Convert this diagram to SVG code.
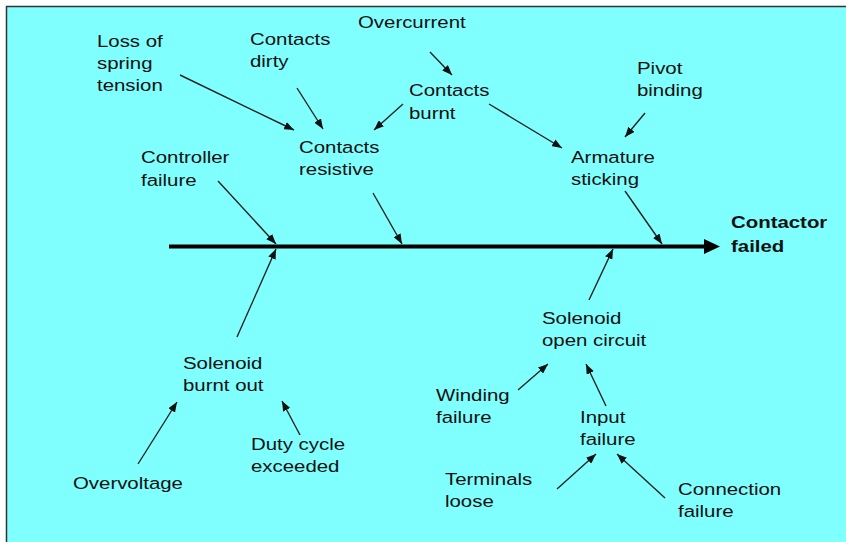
<svg xmlns="http://www.w3.org/2000/svg" width="846" height="542" viewBox="0 0 846 542">
<defs>
<style>
text{font-family:"Liberation Sans",Arial,sans-serif;font-size:17px;fill:#111}
.b{font-weight:bold}
.c{stroke:#222;stroke-width:1.4;fill:none;marker-end:url(#ah)}
</style>
<marker id="ah" viewBox="0 0 10 8" refX="10" refY="4" markerWidth="10" markerHeight="8" markerUnits="userSpaceOnUse" orient="auto">
<path d="M0,0 L10,4 L0,8 Z" fill="#111"/>
</marker>
</defs>
<rect width="846" height="542" fill="#fff"/>
<rect x="6.5" y="6.5" width="860" height="560" fill="#80FFFF" stroke="#333" stroke-width="1.5"/>
<g id="spine">
<line x1="169" y1="246.5" x2="706" y2="246.5" stroke="#000" stroke-width="4"/>
<path d="M704,239 L720,246.5 L704,254 Z" fill="#000"/>
</g>
<g id="connectors">
<line class="c" x1="180" y1="75" x2="294" y2="130"/>
<line class="c" x1="297" y1="88" x2="323" y2="129"/>
<line class="c" x1="403" y1="104" x2="374" y2="130"/>
<line class="c" x1="430" y1="52" x2="452" y2="75"/>
<line class="c" x1="489" y1="104" x2="562" y2="148"/>
<line class="c" x1="645" y1="113" x2="625" y2="137"/>
<line class="c" x1="625" y1="191" x2="662" y2="244"/>
<line class="c" x1="373" y1="193" x2="402" y2="244"/>
<line class="c" x1="218" y1="181" x2="276" y2="244"/>
<line class="c" x1="237" y1="337" x2="276" y2="249"/>
<line class="c" x1="589" y1="300" x2="613" y2="249"/>
<line class="c" x1="138" y1="464" x2="177" y2="402"/>
<line class="c" x1="300" y1="435" x2="282" y2="401"/>
<line class="c" x1="518" y1="390" x2="548" y2="364"/>
<line class="c" x1="606" y1="406" x2="586" y2="364"/>
<line class="c" x1="557" y1="489" x2="596" y2="454"/>
<line class="c" x1="665" y1="498" x2="617" y2="454"/>
</g>
<g id="loss-of-spring-tension"><text transform="translate(97,47) scale(1.2,1)"><tspan x="0" y="0">Loss of</tspan><tspan x="0" y="22">spring</tspan><tspan x="0" y="44">tension</tspan></text></g>
<g id="contacts-dirty"><text transform="translate(250,45) scale(1.2,1)"><tspan x="0" y="0">Contacts</tspan><tspan x="0" y="22">dirty</tspan></text></g>
<g id="overcurrent"><text transform="translate(358,28) scale(1.2,1)">Overcurrent</text></g>
<g id="contacts-burnt"><text transform="translate(409,96) scale(1.2,1)"><tspan x="0" y="0">Contacts</tspan><tspan x="0" y="23">burnt</tspan></text></g>
<g id="pivot-binding"><text transform="translate(637,74) scale(1.2,1)"><tspan x="0" y="0">Pivot</tspan><tspan x="0" y="22">binding</tspan></text></g>
<g id="contacts-resistive"><text transform="translate(299,153) scale(1.2,1)"><tspan x="0" y="0">Contacts</tspan><tspan x="0" y="22">resistive</tspan></text></g>
<g id="controller-failure"><text transform="translate(141,163) scale(1.2,1)"><tspan x="0" y="0">Controller</tspan><tspan x="0" y="23">failure</tspan></text></g>
<g id="armature-sticking"><text transform="translate(571,163) scale(1.2,1)"><tspan x="0" y="0">Armature</tspan><tspan x="0" y="22">sticking</tspan></text></g>
<g id="contactor-failed"><text class="b" transform="translate(731,228) scale(1.2,1)"><tspan x="0" y="0">Contactor</tspan><tspan x="0" y="24">failed</tspan></text></g>
<g id="solenoid-open-circuit"><text transform="translate(542,324) scale(1.2,1)"><tspan x="0" y="0">Solenoid</tspan><tspan x="0" y="22">open circuit</tspan></text></g>
<g id="solenoid-burnt-out"><text transform="translate(183,369) scale(1.2,1)"><tspan x="0" y="0">Solenoid</tspan><tspan x="0" y="22">burnt out</tspan></text></g>
<g id="winding-failure"><text transform="translate(436,401) scale(1.2,1)"><tspan x="0" y="0">Winding</tspan><tspan x="0" y="22">failure</tspan></text></g>
<g id="input-failure"><text transform="translate(580,423) scale(1.2,1)"><tspan x="0" y="0">Input</tspan><tspan x="0" y="22">failure</tspan></text></g>
<g id="duty-cycle-exceeded"><text transform="translate(251,450) scale(1.2,1)"><tspan x="0" y="0">Duty cycle</tspan><tspan x="0" y="22">exceeded</tspan></text></g>
<g id="overvoltage"><text transform="translate(73,489) scale(1.2,1)">Overvoltage</text></g>
<g id="terminals-loose"><text transform="translate(445,485) scale(1.2,1)"><tspan x="0" y="0">Terminals</tspan><tspan x="0" y="22">loose</tspan></text></g>
<g id="connection-failure"><text transform="translate(678,495) scale(1.2,1)"><tspan x="0" y="0">Connection</tspan><tspan x="0" y="22">failure</tspan></text></g>
</svg>
